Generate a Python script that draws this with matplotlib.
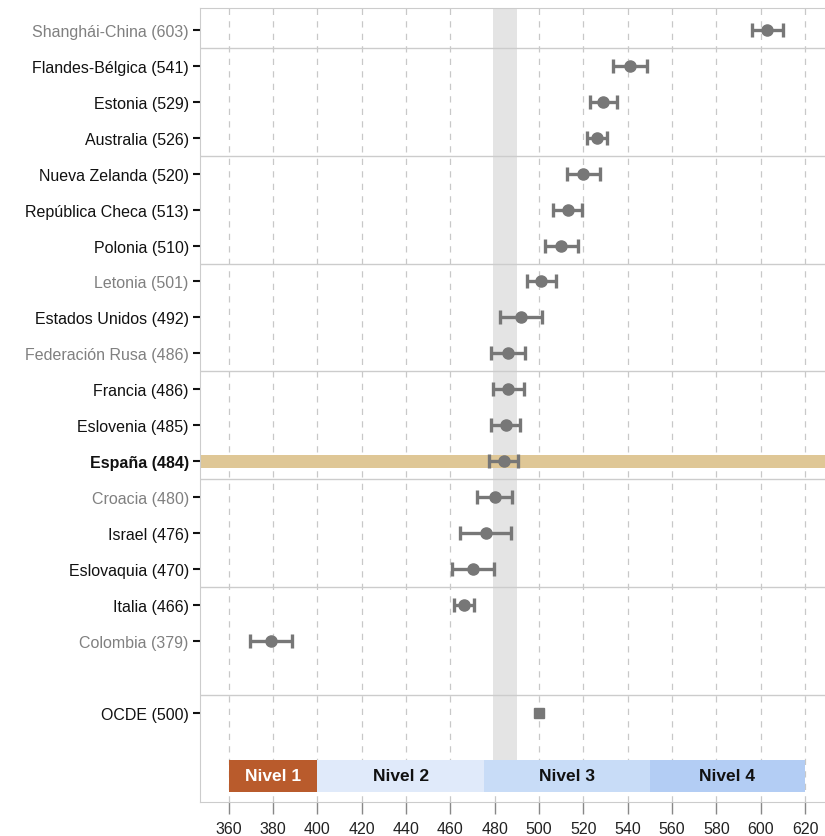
import matplotlib.pyplot as plt
from matplotlib.patches import Rectangle

plt.rcParams["font.family"] = ["Liberation Sans", "DejaVu Sans"]

countries = ["Shanghái-China", "Flandes-Bélgica", "Estonia", "Australia",
             "Nueva Zelanda", "República Checa", "Polonia", "Letonia",
             "Estados Unidos", "Federación Rusa", "Francia", "Eslovenia",
             "España", "Croacia", "Israel", "Eslovaquia", "Italia", "Colombia"]
scores = [603, 541, 529, 526, 520, 513, 510, 501, 492, 486, 486, 485,
          484, 480, 476, 470, 466, 379]
errors = [7, 7.5, 6, 4.5, 7.5, 6.5, 7.5, 6.5, 9.5, 7.5, 7, 6.5,
          6.5, 8, 11.5, 9.5, 4.5, 9.5]
gray_label = ["Shanghái-China", "Letonia", "Federación Rusa", "Croacia", "Colombia"]

oecd_score = 500
oecd_error = 1

levels = ["Nivel 1", "Nivel 2", "Nivel 3", "Nivel 4"]
level_edges = [360, 400, 475, 550, 620]
level_colors = ["#b95b2c", "#e0eafa", "#c8dcf7", "#b3cdf4"]

band_low, band_high = 479, 490
ticks = list(range(360, 621, 20))


def main():
    fig = plt.figure(figsize=(8.25, 8.37), dpi=100)
    ax = fig.add_axes([0.2424, 0.0406, 0.7576, 0.9483])

    rows = list(range(len(countries)))
    oecd_row = len(countries) + 1
    level_row = oecd_row + 1.75

    ax.set_xlim(347, 629)
    ax.set_ylim(21.48, -0.6)

    # grid and reference band
    for t in ticks:
        ax.axvline(t, color="#c8c8c8", lw=0.9, ls=(0, (5, 5)), zorder=0)
    ax.fill_betweenx([-0.6, level_row - 0.45], band_low, band_high,
                     color="#e4e4e4", lw=0, zorder=0.5)

    for sep in [0.5, 3.5, 6.5, 9.5, 12.5, 15.5, 18.5]:
        ax.axhline(sep, color="#cccccc", lw=1.0, zorder=1)

    # Spain highlight
    spain = countries.index("España")
    ax.axhspan(spain - 0.18, spain + 0.18, color="#dfc796", lw=0, zorder=1.5)

    ax.errorbar(scores, rows, xerr=errors, fmt="o", color="#777777",
                ms=8, elinewidth=2.4, capsize=5, capthick=2.4, zorder=3)
    ax.errorbar([oecd_score], [oecd_row], xerr=[oecd_error], fmt="s",
                color="#777777", ms=7, elinewidth=2, capsize=3, zorder=3)

    # level bar
    for i, name in enumerate(levels):
        lo, hi = level_edges[i], level_edges[i + 1]
        ax.add_patch(Rectangle((lo, level_row - 0.45), hi - lo, 0.9,
                               facecolor=level_colors[i], lw=0, zorder=2))
        ax.text((lo + hi) / 2, level_row, name, ha="center", va="center",
                fontsize=12.5, fontweight="bold",
                color="white" if i == 0 else "#111111", zorder=4)

    labels = [f"{c} ({s})" for c, s in zip(countries, scores)]
    ax.set_yticks(rows + [oecd_row])
    ax.set_yticklabels(labels + [f"OCDE ({oecd_score})"], fontsize=11.5)
    for lab, c in zip(ax.get_yticklabels(), countries + ["OCDE"]):
        lab.set_color("#808080" if c in gray_label else "#111111")
        if c == "España":
            lab.set_fontweight("bold")

    ax.set_xticks(ticks)
    ax.set_xticklabels([str(t) for t in ticks], fontsize=11.5, color="#222222")
    ax.tick_params(axis="y", length=5, width=1.5, color="#111111", pad=3)
    ax.tick_params(axis="x", length=8.5, width=1, color="#888888", pad=5)

    for side in ["left", "bottom", "top"]:
        ax.spines[side].set_color("#cccccc")
    ax.spines["right"].set_visible(False)

    fig.savefig("out.png", dpi=100)


if __name__ == "__main__":
    main()
